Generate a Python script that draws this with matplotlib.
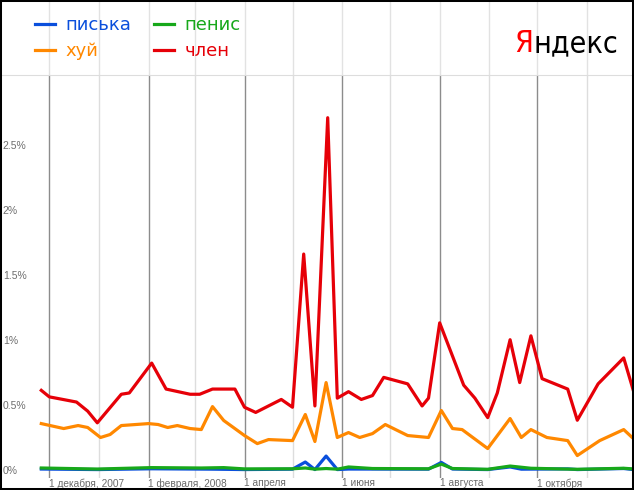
import numpy as np
import pandas as pd
import matplotlib
matplotlib.use("Agg")
import matplotlib.pyplot as plt
import matplotlib.dates as mdates
from matplotlib.patches import Rectangle
from matplotlib import font_manager as fm

# values in percent
chlen_dates = ["2007-11-26", "2007-12-01", "2007-12-18", "2007-12-25", "2007-12-31",
               "2008-01-15", "2008-01-20", "2008-02-03", "2008-02-12", "2008-02-27",
               "2008-03-04", "2008-03-12", "2008-03-26", "2008-04-01", "2008-04-08",
               "2008-04-24", "2008-05-01", "2008-05-08", "2008-05-15", "2008-05-23",
               "2008-05-29", "2008-06-05", "2008-06-13", "2008-06-20", "2008-06-27",
               "2008-07-12", "2008-07-21", "2008-07-25", "2008-08-01", "2008-08-16",
               "2008-08-23", "2008-08-31", "2008-09-06", "2008-09-14", "2008-09-20",
               "2008-09-27", "2008-10-04", "2008-10-20", "2008-10-26", "2008-11-08",
               "2008-11-24", "2008-11-30"]
chlen_vals = [0.61, 0.56, 0.52, 0.45, 0.36,
              0.58, 0.59, 0.82, 0.62, 0.58,
              0.58, 0.62, 0.62, 0.48, 0.44,
              0.54, 0.48, 1.66, 0.49, 2.71,
              0.55, 0.60, 0.54, 0.57, 0.71,
              0.66, 0.49, 0.55, 1.13, 0.65,
              0.55, 0.40, 0.59, 1.00, 0.67,
              1.03, 0.70, 0.62, 0.38, 0.66,
              0.86, 0.61]

huy_dates = ["2007-11-26", "2007-12-10", "2007-12-19", "2007-12-25", "2008-01-02",
             "2008-01-08", "2008-01-15", "2008-02-01", "2008-02-07", "2008-02-13",
             "2008-02-19", "2008-02-27", "2008-03-05", "2008-03-12", "2008-03-19",
             "2008-04-01", "2008-04-09", "2008-04-16", "2008-05-01", "2008-05-09",
             "2008-05-15", "2008-05-22", "2008-05-29", "2008-06-05", "2008-06-12",
             "2008-06-20", "2008-06-28", "2008-07-12", "2008-07-25", "2008-08-02",
             "2008-08-09", "2008-08-15", "2008-08-31", "2008-09-14", "2008-09-21",
             "2008-09-27", "2008-10-07", "2008-10-20", "2008-10-26", "2008-11-09",
             "2008-11-24", "2008-11-30"]
huy_vals = [0.354, 0.316, 0.339, 0.324, 0.247,
            0.27, 0.339, 0.354, 0.347, 0.324,
            0.339, 0.316, 0.308, 0.485, 0.378,
            0.262, 0.20, 0.231, 0.223, 0.424,
            0.216, 0.67, 0.247, 0.285, 0.247,
            0.277, 0.347, 0.262, 0.247, 0.455,
            0.316, 0.308, 0.162, 0.393, 0.247,
            0.308, 0.247, 0.223, 0.108, 0.223,
            0.308, 0.239]

piska_dates = ["2007-11-26", "2007-12-31", "2008-02-03", "2008-03-12", "2008-04-01",
               "2008-05-01", "2008-05-09", "2008-05-15", "2008-05-22", "2008-05-29",
               "2008-06-05", "2008-07-25", "2008-08-02", "2008-08-09", "2008-08-31",
               "2008-09-14", "2008-09-21", "2008-10-20", "2008-10-26", "2008-11-24",
               "2008-11-30"]
piska_vals = [0.004, 0.0, 0.006, 0.003, 0.0,
              0.003, 0.058, 0.0, 0.104, 0.0,
              0.004, 0.003, 0.055, 0.004, 0.0,
              0.02, 0.003, 0.005, 0.0, 0.008,
              0.0]

penis_dates = ["2007-11-26", "2007-12-31", "2008-02-03", "2008-03-05", "2008-03-19",
               "2008-04-01", "2008-05-01", "2008-05-09", "2008-05-15", "2008-05-22",
               "2008-05-29", "2008-06-05", "2008-06-20", "2008-07-25", "2008-08-02",
               "2008-08-09", "2008-08-31", "2008-09-14", "2008-09-27", "2008-10-26",
               "2008-11-24", "2008-11-30"]
penis_vals = [0.012, 0.004, 0.015, 0.012, 0.015,
              0.005, 0.006, 0.012, 0.003, 0.008,
              0.003, 0.02, 0.008, 0.006, 0.042,
              0.008, 0.002, 0.027, 0.01, 0.002,
              0.01, 0.005]

yticks = [0, 0.5, 1, 1.5, 2, 2.5]
ylabels = ["0%", "0.5%", "1%", "1.5%", "2%", "2.5%"]
xtick_dates = ["2007-12-01", "2008-02-01", "2008-04-01", "2008-06-01", "2008-08-01", "2008-10-01"]
xtick_labels = ["1 декабря, 2007", "1 февраля, 2008", "1 апреля", "1 июня", "1 августа", "1 октября"]
minor_dates = ["2008-01-01", "2008-03-01", "2008-05-01", "2008-07-01", "2008-09-01", "2008-11-01"]

col_piska = "#0a4fdc"
col_huy = "#ff8800"
col_penis = "#17a81a"
col_chlen = "#e60008"

W, H = 634, 490
fig = plt.figure(figsize=(W / 100, H / 100), dpi=100)

# plot area: from y=75px to y=478px
ax = fig.add_axes([0, (H - 478) / H, 1, (478 - 75) / H])
top = fig.add_axes([0, (H - 75) / H, 1, 75 / H], sharex=ax)
top.axis("off")

x0 = mdates.date2num(pd.Timestamp("2007-12-01"))
ax.set_xlim(x0 - 49.3 / 1.6, x0 + (W - 49.3) / 1.6)
ax.set_ylim(-0.065, 3.039)

for d in minor_dates:
    ax.axvline(pd.Timestamp(d), color="#dddddd", lw=1, zorder=0)
for d in xtick_dates:
    ax.axvline(pd.Timestamp(d), color="#8c8c8c", lw=1, zorder=0)
for d in minor_dates + xtick_dates:
    top.axvline(pd.Timestamp(d), color="#e2e2e2", lw=1, zorder=0)

lw = 2.3
ax.plot(pd.to_datetime(piska_dates), piska_vals, color=col_piska, lw=lw, label="писька")
ax.plot(pd.to_datetime(huy_dates), huy_vals, color=col_huy, lw=lw, label="хуй")
ax.plot(pd.to_datetime(penis_dates), penis_vals, color=col_penis, lw=lw, label="пенис")
ax.plot(pd.to_datetime(chlen_dates), chlen_vals, color=col_chlen, lw=lw, label="член")

for s in ax.spines.values():
    s.set_visible(False)
ax.spines["top"].set_visible(True)
ax.spines["top"].set_color("#dddddd")

ax.set_yticks(yticks, labels=ylabels, ha="left")
ax.tick_params(axis="y", length=0, pad=-2, labelsize=7.5, labelcolor="#6e6e6e")
ax.set_xticks(pd.to_datetime(xtick_dates), labels=xtick_labels, ha="left")
ax.tick_params(axis="x", length=0, pad=0.1, labelsize=7.3, labelcolor="#6a6a6a")
for t in ax.get_xticklabels() + ax.get_yticklabels():
    t.set_fontfamily("Liberation Sans")

handles, labels = ax.get_legend_handles_labels()
leg = fig.legend(handles, labels, ncol=2,
                 loc="upper left", bbox_to_anchor=(35 / W, 1 - 16 / H), frameon=False,
                 fontsize=13, handlelength=1.1, handletextpad=0.6, columnspacing=1.25,
                 labelspacing=0.45, borderpad=0, borderaxespad=0, labelcolor="linecolor")

# logo: pick a narrow face if there is one
logo_font = fm.FontProperties(family="Liberation Sans")
for f in fm.fontManager.ttflist:
    name = f.fname.lower()
    if ("narrow" in name or "condensed" in name) and "bold" not in name \
            and "italic" not in name and "oblique" not in name and "mono" not in name:
        logo_font = fm.FontProperties(fname=f.fname)
        break

size = 26
ya = fig.text(0, 1 - 52 / H, "Я", color="#ff0000", fontproperties=logo_font,
              fontsize=size, va="baseline")
rest = fig.text(0, 1 - 52 / H, "ндекс", color="black", fontproperties=logo_font,
                fontsize=size, va="baseline")
fig.canvas.draw()
r = fig.canvas.get_renderer()
total = ya.get_window_extent(r).width + rest.get_window_extent(r).width
size = size * 104 / total
ya.set_fontsize(size)
rest.set_fontsize(size)
fig.canvas.draw()
wy = ya.get_window_extent(r).width
wr = rest.get_window_extent(r).width
ya.set_x((618 - wy - wr) / W)
rest.set_x((618 - wr) / W)

fig.patches.append(Rectangle((0, 0), 1, 1, transform=fig.transFigure, fill=False,
                             edgecolor="black", lw=2.9, zorder=10))

plt.savefig("out.png", dpi=100)
